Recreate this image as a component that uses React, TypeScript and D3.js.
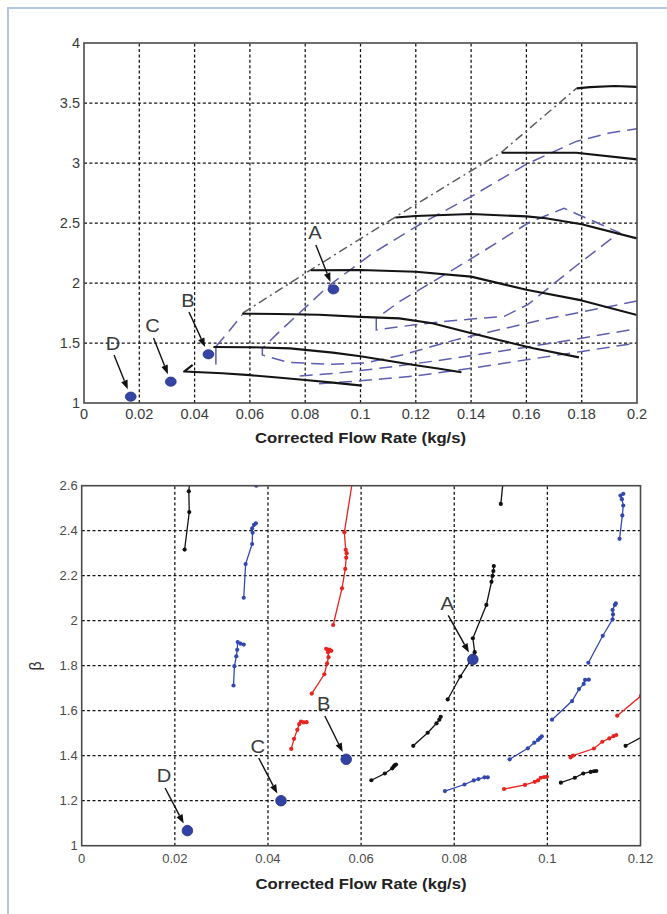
import React from "react";
import * as d3 from "d3";

type Pt = [number, number];

// ---------- Upper panel: compressor map ----------
const topXTicks = [0, 0.02, 0.04, 0.06, 0.08, 0.1, 0.12, 0.14, 0.16, 0.18, 0.2];
const topYTicks = [1, 1.5, 2, 2.5, 3, 3.5, 4];

// constant-speed lines (solid black)
const speedLines: Pt[][] = [
  [[0.0393, 1.318], [0.0362, 1.262], [0.05, 1.248], [0.06, 1.232], [0.07, 1.212], [0.08, 1.192], [0.09, 1.17], [0.1005, 1.145]],
  [[0.0468, 1.467], [0.06, 1.465], [0.0745, 1.455], [0.09, 1.42], [0.1, 1.39], [0.12, 1.315], [0.128, 1.288], [0.1365, 1.256]],
  [[0.0572, 1.744], [0.07, 1.742], [0.085, 1.735], [0.1, 1.718], [0.114, 1.705], [0.126, 1.664], [0.138, 1.594], [0.15, 1.525], [0.1625, 1.456], [0.179, 1.38]],
  [[0.082, 2.106], [0.1, 2.108], [0.12, 2.094], [0.14, 2.053], [0.16, 1.943], [0.18, 1.855], [0.2, 1.733]],
  [[0.1126, 2.546], [0.12, 2.558], [0.14, 2.575], [0.16, 2.555], [0.167, 2.54], [0.18, 2.49], [0.2, 2.372]],
  [[0.1511, 3.086], [0.178, 3.086], [0.2, 3.03]],
  [[0.1782, 3.622], [0.183, 3.632], [0.192, 3.642], [0.2, 3.634]],
];

// surge line (grey dash-dot)
const surgeLine: Pt[] = [[0.0575, 1.75], [0.082, 2.11], [0.1126, 2.55], [0.151, 3.09], [0.1782, 3.624]];

// short solid blue segment at the low-flow end
const blueSolid: Pt[] = [[0.0477, 1.32], [0.0477, 1.47]];

// efficiency contours (blue dashed)
const efficiencyContours: Pt[][] = [
  [[0.0477, 1.47], [0.0525, 1.6], [0.0572, 1.735]],
  [[0.2, 1.85], [0.165, 1.69], [0.135, 1.53], [0.115, 1.4], [0.102, 1.335], [0.09, 1.322], [0.074, 1.338], [0.0645, 1.4],
   [0.0645, 1.454], [0.07, 1.58], [0.0765, 1.72], [0.0884, 1.975], [0.1045, 2.25], [0.1215, 2.489], [0.14, 2.72],
   [0.16, 2.99], [0.178, 3.18], [0.19, 3.25], [0.2, 3.285]],
  [[0.1057, 1.705], [0.1057, 1.609], [0.1196, 1.652], [0.135, 1.69], [0.152, 1.722], [0.1605, 1.82], [0.177, 2.125],
   [0.1936, 2.42], [0.1736, 2.623], [0.1608, 2.502], [0.1396, 2.196], [0.1142, 1.846], [0.1057, 1.705]],
  [[0.078, 1.225], [0.09, 1.245], [0.1, 1.27], [0.114, 1.31], [0.13, 1.36], [0.15, 1.43], [0.175, 1.52], [0.2, 1.62]],
  [[0.085, 1.16], [0.1, 1.185], [0.12, 1.225], [0.14, 1.29], [0.16, 1.36], [0.18, 1.43], [0.2, 1.5]],
];

// operating points with labels (label position given in data units)
const topPoints = [
  { name: "A", x: 0.0902, y: 1.947, lx: 0.0835, ly: 2.417 },
  { name: "B", x: 0.045, y: 1.406, lx: 0.0376, ly: 1.858 },
  { name: "C", x: 0.0314, y: 1.178, lx: 0.0248, ly: 1.642 },
  { name: "D", x: 0.0169, y: 1.053, lx: 0.0105, ly: 1.5 },
];

// ---------- Lower panel: measured beta vs flow ----------
const botXTicks = [0, 0.02, 0.04, 0.06, 0.08, 0.1, 0.12];
const botYTicks = [1, 1.2, 1.4, 1.6, 1.8, 2, 2.2, 2.4, 2.6];

const blackSeries: Pt[][] = [
  [[0.0221, 2.316], [0.0231, 2.483], [0.023, 2.575], [0.0233, 2.64]],
  [[0.0786, 1.65], [0.0813, 1.752], [0.0836, 1.826], [0.0842, 1.845], [0.0844, 1.86], [0.084, 1.922], [0.0869, 2.07],
   [0.088, 2.173], [0.0882, 2.199], [0.0884, 2.221], [0.0885, 2.243]],
  [[0.09, 2.519], [0.0906, 2.64]],
  [[0.0622, 1.291], [0.0651, 1.321], [0.0667, 1.344], [0.067, 1.352], [0.0672, 1.357], [0.0675, 1.361]],
  [[0.0712, 1.444], [0.0743, 1.502], [0.0762, 1.544], [0.0768, 1.56], [0.0771, 1.573]],
  [[0.1168, 1.444], [0.1215, 1.497]],
  [[0.1029, 1.28], [0.1059, 1.302], [0.1077, 1.321], [0.1093, 1.328], [0.11, 1.331], [0.1105, 1.332]],
];

const blueSeries: Pt[][] = [
  [[0.0375, 2.6]],
  [[0.0348, 2.102], [0.0352, 2.252], [0.0366, 2.341], [0.0367, 2.391], [0.0366, 2.41], [0.037, 2.426], [0.0374, 2.433]],
  [[0.0326, 1.712], [0.0328, 1.798], [0.0332, 1.842], [0.0334, 1.871], [0.0335, 1.905], [0.0341, 1.898], [0.0348, 1.894]],
  [[0.1155, 2.364], [0.1161, 2.468], [0.1163, 2.512], [0.116, 2.54], [0.1157, 2.556], [0.1163, 2.564]],
  [[0.1088, 1.813], [0.1119, 1.933], [0.114, 2.006], [0.1141, 2.028], [0.114, 2.048], [0.1145, 2.07], [0.1147, 2.077]],
  [[0.101, 1.56], [0.1053, 1.643], [0.1068, 1.696], [0.1078, 1.719], [0.1081, 1.737], [0.1089, 1.738]],
  [[0.0919, 1.384], [0.0958, 1.433], [0.0972, 1.458], [0.098, 1.47], [0.0984, 1.478], [0.0988, 1.486]],
  [[0.078, 1.243], [0.0822, 1.272], [0.0842, 1.29], [0.0852, 1.296], [0.0865, 1.304], [0.0872, 1.304]],
];

const redSeries: Pt[][] = [
  [[0.054, 1.981], [0.0559, 2.144], [0.0566, 2.23], [0.0568, 2.28], [0.0569, 2.3], [0.0567, 2.315], [0.0564, 2.393], [0.0583, 2.64]],
  [[0.0494, 1.676], [0.0521, 1.762], [0.0527, 1.81], [0.053, 1.838], [0.0529, 1.86], [0.0525, 1.875], [0.0532, 1.872], [0.0536, 1.866]],
  [[0.045, 1.43], [0.0456, 1.475], [0.0463, 1.515], [0.0467, 1.54], [0.0471, 1.552], [0.0477, 1.548], [0.0483, 1.549]],
  [[0.115, 1.578], [0.1201, 1.666]],
  [[0.105, 1.393], [0.1055, 1.4], [0.11, 1.432], [0.1118, 1.462], [0.1133, 1.477], [0.1142, 1.487], [0.1148, 1.492]],
  [[0.0907, 1.252], [0.0952, 1.27], [0.0973, 1.284], [0.098, 1.29], [0.0986, 1.302], [0.0993, 1.305], [0.0999, 1.306]],
];

const botPoints = [
  { name: "A", x: 0.084, y: 1.828, lx: 0.0785, ly: 2.077 },
  { name: "B", x: 0.0568, y: 1.384, lx: 0.052, ly: 1.63 },
  { name: "C", x: 0.0428, y: 1.2, lx: 0.0378, ly: 1.443 },
  { name: "D", x: 0.0227, y: 1.067, lx: 0.0177, ly: 1.31 },
];

const FONT = "'Liberation Sans', Arial, sans-serif";
const fmt = d3.format("~g");

type Scale = d3.ScaleLinear<number, number>;

function Grid({ x, y, xt, yt }: { x: Scale; y: Scale; xt: number[]; yt: number[] }) {
  const [x0, x1] = x.range();
  const [y0, y1] = y.range();
  return (
    <g stroke="#111" strokeWidth={1.25} strokeDasharray="3,2.4" fill="none">
      {xt.slice(1, -1).map((t) => (
        <line key={"gx" + t} x1={x(t)} x2={x(t)} y1={y0} y2={y1} />
      ))}
      {yt.slice(1, -1).map((t) => (
        <line key={"gy" + t} x1={x0} x2={x1} y1={y(t)} y2={y(t)} />
      ))}
    </g>
  );
}

function Axes({ x, y, xt, yt, size, color, xBase }: {
  x: Scale; y: Scale; xt: number[]; yt: number[]; size: number; color: string; xBase: number;
}) {
  const [x0] = x.range();
  return (
    <g fontFamily={FONT} fontSize={size} fill={color}>
      {xt.map((t) => (
        <text key={"tx" + t} x={x(t)} y={xBase} textAnchor="middle">{fmt(t)}</text>
      ))}
      {yt.map((t) => (
        <text key={"ty" + t} x={x0 - 4} y={y(t)} dy="0.35em" textAnchor="end">{fmt(t)}</text>
      ))}
    </g>
  );
}

// horizontally widened text, as the figure's lettering is set wide
function WideText({ x, y, children, size, weight, fill, sx = 1.15 }: {
  x: number; y: number; children: React.ReactNode; size: number; weight?: string; fill: string; sx?: number;
}) {
  return (
    <text
      transform={`translate(${x},${y}) scale(${sx},1)`}
      textAnchor="middle"
      fontFamily={FONT}
      fontSize={size}
      fontWeight={weight}
      fill={fill}
    >
      {children}
    </text>
  );
}

function Callout({ px, py, lx, ly, label }: { px: number; py: number; lx: number; ly: number; label: string }) {
  const sx = lx + 1;
  const sy = ly + 12;
  const dx = px - sx;
  const dy = py - sy;
  const L = Math.hypot(dx, dy);
  const ux = dx / L;
  const uy = dy / L;
  const ex = px - ux * 8;
  const ey = py - uy * 8;
  const hl = 9;
  const hw = 3.4;
  const hx = ex - ux * hl;
  const hy = ey - uy * hl;
  return (
    <g>
      <WideText x={lx} y={ly + 6.5} size={18} fill="#3a3a3a" sx={1.12}>{label}</WideText>
      <line x1={sx} y1={sy} x2={hx} y2={hy} stroke="#111" strokeWidth={1.4} />
      <polygon
        points={`${ex},${ey} ${hx - uy * hw},${hy + ux * hw} ${hx + uy * hw},${hy - ux * hw}`}
        fill="#111"
      />
    </g>
  );
}

export default function App() {
  const tx = d3.scaleLinear().domain([0, 0.2]).range([84, 637]);
  const ty = d3.scaleLinear().domain([1, 4]).range([403, 43]);
  const bx = d3.scaleLinear().domain([0, 0.12]).range([81.7, 640.5]);
  const by = d3.scaleLinear().domain([1, 2.6]).range([845.7, 485.7]);

  const topLine = d3.line<Pt>().x((d) => tx(d[0])).y((d) => ty(d[1]));
  const botLine = d3.line<Pt>().x((d) => bx(d[0])).y((d) => by(d[1]));

  const seriesGroups: { color: string; data: Pt[][] }[] = [
    { color: "#111111", data: blackSeries },
    { color: "#3347b0", data: blueSeries },
    { color: "#e8231e", data: redSeries },
  ];

  return (
    <div style={{ position: "absolute", left: 0, top: 0 }}>
      <svg width={667} height={914} viewBox="0 0 667 914" style={{ display: "block", background: "#fff" }}>
        <defs>
          <clipPath id="clipTop">
            <rect x={84} y={43} width={553} height={360} />
          </clipPath>
          <clipPath id="clipBot">
            <rect x={81.7} y={485.7} width={558.8} height={360} />
          </clipPath>
        </defs>

        {/* page frame */}
        <path d="M8,914 V8 H667" fill="none" stroke="#b4c5e4" strokeWidth={2} />

        {/* ---- upper panel ---- */}
        <Grid x={tx} y={ty} xt={topXTicks} yt={topYTicks} />
        <g clipPath="url(#clipTop)" fill="none">
          {efficiencyContours.map((c, i) => (
            <path key={"ec" + i} d={topLine(c) || ""} stroke="#5e5eb0" strokeWidth={1.5} strokeDasharray="13,7" />
          ))}
          <path d={topLine(blueSolid) || ""} stroke="#5a5ab0" strokeWidth={1.5} />
          <path d={topLine(surgeLine) || ""} stroke="#5e5e5e" strokeWidth={1.5} strokeDasharray="9,4,2,4" />
          {speedLines.map((s, i) => (
            <path key={"sl" + i} d={topLine(s) || ""} stroke="#141414" strokeWidth={2.1} strokeLinejoin="round" />
          ))}
        </g>
        <rect x={84} y={43} width={553} height={360} fill="none" stroke="#4a4a4a" strokeWidth={1.6} />
        <Axes x={tx} y={ty} xt={topXTicks} yt={topYTicks} size={14.5} color="#3a3a3a" xBase={419} />
        <WideText x={360.5} y={443} size={14.5} weight="bold" fill="#222">Corrected Flow Rate (kg/s)</WideText>
        {topPoints.map((p) => (
          <g key={"tp" + p.name}>
            <ellipse cx={tx(p.x)} cy={ty(p.y)} rx={5.4} ry={4.6} fill="#3445a5" stroke="#263382" strokeWidth={0.8} />
            <Callout px={tx(p.x)} py={ty(p.y)} lx={tx(p.lx)} ly={ty(p.ly)} label={p.name} />
          </g>
        ))}

        {/* ---- lower panel ---- */}
        <Grid x={bx} y={by} xt={botXTicks} yt={botYTicks} />
        <g clipPath="url(#clipBot)">
          {seriesGroups.map((g) =>
            g.data.map((s, i) => (
              <g key={g.color + i}>
                {s.length > 1 && (
                  <path d={botLine(s) || ""} fill="none" stroke={g.color} strokeWidth={1.3} />
                )}
                {s.map((d, j) => (
                  <circle key={j} cx={bx(d[0])} cy={by(d[1])} r={2.1} fill={g.color} />
                ))}
              </g>
            ))
          )}
        </g>
        <rect x={81.7} y={485.7} width={558.8} height={360} fill="none" stroke="#4a4a4a" strokeWidth={1.6} />
        <Axes x={bx} y={by} xt={botXTicks} yt={botYTicks} size={13} color="#4a4a4a" xBase={863} />
        <WideText x={361} y={889} size={14.5} weight="bold" fill="#222">Corrected Flow Rate (kg/s)</WideText>
        <text
          transform="translate(35,666) rotate(-90)"
          textAnchor="middle"
          dy="0.35em"
          fontFamily={FONT}
          fontSize={16}
          fill="#333"
        >
          β
        </text>
        {botPoints.map((p) => (
          <g key={"bp" + p.name}>
            <circle cx={bx(p.x)} cy={by(p.y)} r={5.3} fill="#3142a2" stroke="#25317f" strokeWidth={0.8} />
            <Callout px={bx(p.x)} py={by(p.y)} lx={bx(p.lx)} ly={by(p.ly)} label={p.name} />
          </g>
        ))}
      </svg>
    </div>
  );
}
